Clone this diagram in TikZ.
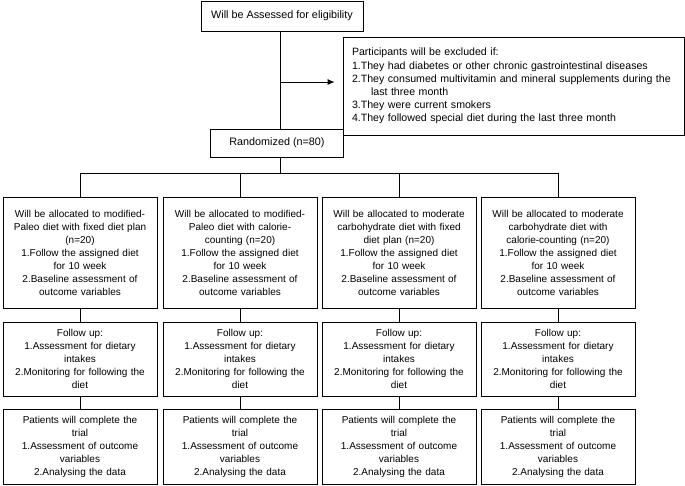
\documentclass[tikz,border=0pt]{standalone}
\usepackage{fontspec}
\setmainfont{Liberation Sans}
\usetikzlibrary{arrows.meta}

\begin{document}
\begin{tikzpicture}[x=1pt,y=-1pt,line width=0.8pt,
  box/.style={draw,align=center,inner xsep=4pt,inner ysep=0pt,font=\fontsize{10}{13}\selectfont},
  topbox/.style={box,font=\fontsize{10.8}{13}\selectfont},
  armbox/.style={box,text width=146pt},
  alloc/.style={armbox,minimum height=111pt},
  follow/.style={armbox,minimum height=74pt},
  complete/.style={armbox,minimum height=75pt}]
\useasboundingbox (0,0) rectangle (685,485);

\node[topbox,minimum width=162pt,minimum height=30pt] (assess) at (282,16) {Will be Assessed for eligibility};
\node[box,font=\fontsize{10.6}{13.1}\selectfont,align=left,text width=323pt,inner xsep=9pt,minimum height=98pt] (excl) at (513.5,86) {Participants will be excluded if:\\
1.They had diabetes or other chronic gastrointestinal diseases\\
\makebox[\linewidth][s]{2.They consumed multivitamin and mineral supplements during the}\\
\hspace*{19pt}last three month\\
3.They were current smokers\\
4.They followed special diet during the last three month};
\node[topbox,minimum width=133pt,minimum height=28pt] (rand) at (277,143) {Randomized (n=80)};

\node[alloc] (a1) at (80,252.5) {Will be allocated to modified-\\Paleo diet with fixed diet plan\\(n=20)\\1.Follow the assigned diet\\for 10 week\\2.Baseline assessment of\\outcome variables};
\node[alloc] (a2) at (240,252.5) {Will be allocated to modified-\\Paleo diet with calorie-\\counting (n=20)\\1.Follow the assigned diet\\for 10 week\\2.Baseline assessment of\\outcome variables};
\node[alloc] (a3) at (399,252.5) {Will be allocated to moderate\\carbohydrate diet with fixed\\diet plan (n=20)\\1.Follow the assigned diet\\for 10 week\\2.Baseline assessment of\\outcome variables};
\node[alloc] (a4) at (558,252.5) {Will be allocated to moderate\\carbohydrate diet with\\calorie-counting (n=20)\\1.Follow the assigned diet\\for 10 week\\2.Baseline assessment of\\outcome variables};

\node[follow] (f1) at (80,359) {Follow up:\\1.Assessment for dietary\\intakes\\2.Monitoring for following the\\diet};
\node[follow] (f2) at (240,359) {Follow up:\\1.Assessment for dietary\\intakes\\2.Monitoring for following the\\diet};
\node[follow] (f3) at (399,359) {Follow up:\\1.Assessment for dietary\\intakes\\2.Monitoring for following the\\diet};
\node[follow] (f4) at (558,359) {Follow up:\\1.Assessment for dietary\\intakes\\2.Monitoring for following the\\diet};

\node[complete] (p1) at (80,446.5) {Patients will complete the\\trial\\1.Assessment of outcome\\variables\\2.Analysing the data};
\node[complete] (p2) at (240,446.5) {Patients will complete the\\trial\\1.Assessment of outcome\\variables\\2.Analysing the data};
\node[complete] (p3) at (399,446.5) {Patients will complete the\\trial\\1.Assessment of outcome\\variables\\2.Analysing the data};
\node[complete] (p4) at (558,446.5) {Patients will complete the\\trial\\1.Assessment of outcome\\variables\\2.Analysing the data};

\coordinate (spine) at (280,0);
\coordinate (bar) at (0,173);
\coordinate (exclin) at ([yshift=4pt]excl.west);

\draw (assess.south -| spine) -- (rand.north -| spine);
\draw[-{Latex[length=7pt,width=6pt]},shorten >=8pt] (spine |- exclin) -- (exclin);

\draw (rand.south -| spine) -- (bar -| spine);
\draw (bar -| a1) -- (bar -| a4);
\draw (bar -| a1) -- (a1.north);
\draw (bar -| a2) -- (a2.north);
\draw (bar -| a3) -- (a3.north);
\draw (bar -| a4) -- (a4.north);

\draw (a1) -- (f1);
\draw (a2) -- (f2);
\draw (a3) -- (f3);
\draw (a4) -- (f4);

\draw (f1) -- (p1);
\draw (f2) -- (p2);
\draw (f3) -- (p3);
\draw (f4) -- (p4);

\end{tikzpicture}
\end{document}
